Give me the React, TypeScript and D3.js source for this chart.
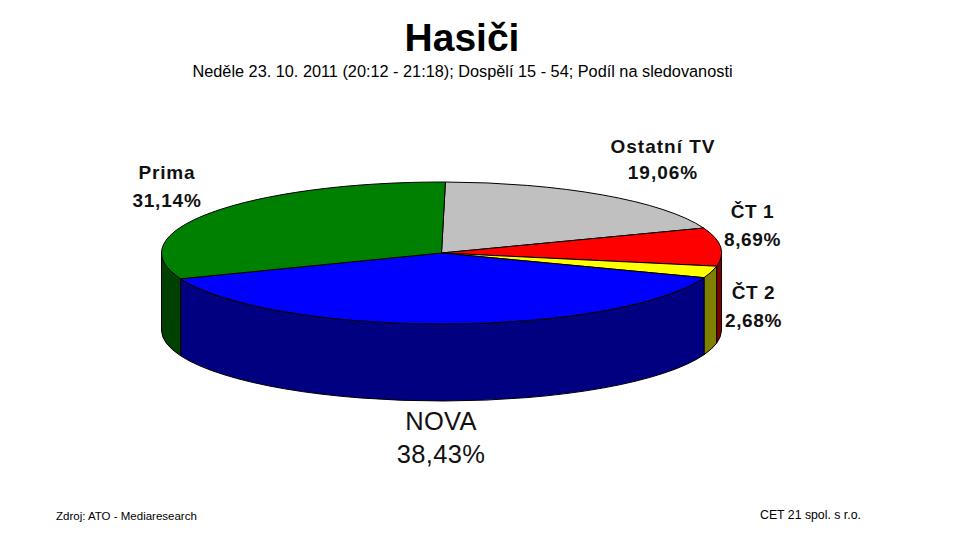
import React, { useEffect, useRef } from 'react';
import * as d3 from 'd3';

const channels = ['Ostatní TV', 'ČT 1', 'ČT 2', 'NOVA', 'Prima'];
const shares = [19.06, 8.69, 2.68, 38.43, 31.14];
const topColors = ['#c0c0c0', '#ff0000', '#ffff00', '#0000ff', '#008000'];
const sideColors = ['#808080', '#800000', '#808000', '#000080', '#004000'];

const width = 959;
const height = 541;
const cx = 441.5;
const cy = 253;
const rx = 280;
const ry = 71;
const depth = 77;
const rotation = 0.014; // first slice starts slightly right of 12 o'clock

// label anchor (centre x, name baseline, value baseline, sizes)
const labels = [
  { x: 663, y1: 153, y2: 179, size: 19, spacing: 1 },
  { x: 752.5, y1: 218, y2: 246, size: 19, spacing: 0.6 },
  { x: 753.5, y1: 299, y2: 327, size: 19, spacing: 0.6 },
  { x: 441, y1: 430, y2: 463, size: 25.5, spacing: 0.3 },
  { x: 167, y1: 179, y2: 207, size: 19, spacing: 0.8 },
];

// angle in radians, clockwise from 12 o'clock
const px = (a: number) => cx + rx * Math.sin(a);
const py = (a: number) => cy - ry * Math.cos(a);

export default function App() {
  const svgRef = useRef<SVGSVGElement | null>(null);

  useEffect(() => {
    if (!svgRef.current) return;
    const svg = d3.select(svgRef.current);
    svg.selectAll('*').remove();

    const font = 'Liberation Sans, Arial, sans-serif';
    const pie = d3
      .pie<number>()
      .sort(null)
      .value(d => d)
      .startAngle(rotation)
      .endAngle(2 * Math.PI + rotation);
    const arcs = pie(shares);

    // walls, only the front half of the cylinder shows
    const front: [number, number] = [Math.PI / 2, (3 * Math.PI) / 2];
    arcs.forEach((d, i) => {
      const a0 = Math.max(d.startAngle, front[0]);
      const a1 = Math.min(d.endAngle, front[1]);
      if (a1 <= a0) return;
      const large = a1 - a0 > Math.PI ? 1 : 0;
      svg
        .append('path')
        .attr(
          'd',
          `M${px(a0)},${py(a0)} A${rx},${ry} 0 ${large} 1 ${px(a1)},${py(a1)} ` +
            `L${px(a1)},${py(a1) + depth} A${rx},${ry} 0 ${large} 0 ${px(a0)},${py(a0) + depth} Z`
        )
        .attr('fill', sideColors[i])
        .attr('stroke', '#000')
        .attr('stroke-width', 1);
    });

    // top face: circular arcs squashed into an ellipse
    const arc = d3.arc<d3.PieArcDatum<number>>().innerRadius(0).outerRadius(rx);
    svg
      .append('g')
      .attr('transform', `translate(${cx},${cy}) scale(1,${ry / rx})`)
      .selectAll('path')
      .data(arcs)
      .join('path')
      .attr('d', arc)
      .attr('fill', (_d, i) => topColors[i])
      .attr('stroke', '#000')
      .attr('stroke-width', 1)
      .attr('vector-effect', 'non-scaling-stroke');

    // slice labels
    channels.forEach((name, i) => {
      const l = labels[i];
      const big = name === 'NOVA';
      const g = svg
        .append('g')
        .attr('text-anchor', 'middle')
        .attr('font-family', font)
        .attr('font-size', l.size)
        .attr('font-weight', big ? 'normal' : 'bold')
        .attr('letter-spacing', l.spacing)
        .attr('fill', '#111');
      g.append('text').attr('x', l.x).attr('y', l.y1).text(name);
      g.append('text')
        .attr('x', l.x)
        .attr('y', l.y2)
        .text(`${shares[i].toFixed(2).replace('.', ',')}%`);
    });

    svg
      .append('text')
      .attr('x', 462)
      .attr('y', 51)
      .attr('text-anchor', 'middle')
      .attr('font-family', font)
      .attr('font-size', 39)
      .attr('font-weight', 'bold')
      .text('Hasiči');

    svg
      .append('text')
      .attr('x', 462.5)
      .attr('y', 77)
      .attr('text-anchor', 'middle')
      .attr('font-family', font)
      .attr('font-size', 16.3)
      .text('Neděle 23. 10. 2011 (20:12 - 21:18); Dospělí 15 - 54; Podíl na sledovanosti');

    svg
      .append('text')
      .attr('x', 56)
      .attr('y', 520)
      .attr('font-family', font)
      .attr('font-size', 11.5)
      .text('Zdroj: ATO - Mediaresearch');

    svg
      .append('text')
      .attr('x', 760)
      .attr('y', 519)
      .attr('font-family', font)
      .attr('font-size', 12.3)
      .text('CET 21 spol. s r.o.');
  }, []);

  return (
    <svg
      ref={svgRef}
      width={width}
      height={height}
      style={{ position: 'absolute', left: 0, top: 0, background: '#fff' }}
    />
  );
}
